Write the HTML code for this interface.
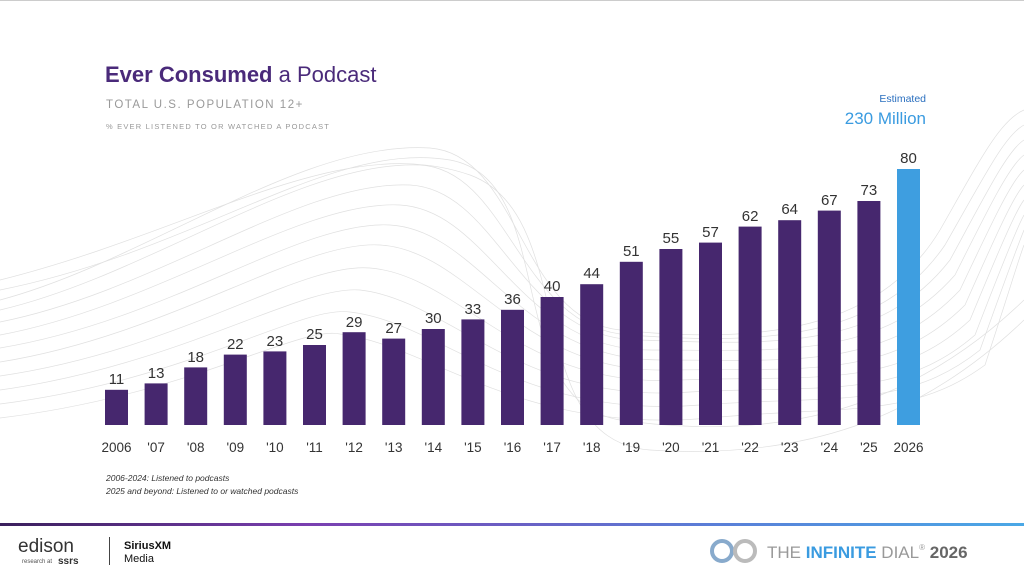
<!DOCTYPE html>
<html><head><meta charset="utf-8"><style>
body{margin:0;width:1024px;height:577px;background:#fff;overflow:hidden;font-family:"Liberation Sans",sans-serif}
svg{position:absolute;left:0;top:0}
</style></head><body>
<svg width="1024" height="577" viewBox="0 0 1024 577">
<defs><linearGradient id="g" x1="0" x2="1"><stop offset="0" stop-color="#3a1f5c"/><stop offset="0.3" stop-color="#7a3fb0"/><stop offset="0.7" stop-color="#5a7fd8"/><stop offset="1" stop-color="#4aa8e6"/></linearGradient></defs>
<rect x="0" y="0" width="1024" height="1" fill="#ccc"/>
<g fill="none" stroke="#e0e0e0" stroke-width="0.7">
<path d="M0,300 C150,260 300,140 430,148 C520,155 520,320 620,330 C760,345 880,330 940,230 C980,160 1000,120 1024,110"/>
<path d="M0,310 C150,275 300,160 420,165 C510,170 520,330 630,335 C760,345 880,340 945,245 C985,175 1005,135 1024,125"/>
<path d="M0,322 C160,290 300,180 410,185 C500,190 520,340 640,340 C770,345 880,350 950,260 C988,190 1008,150 1024,140"/>
<path d="M0,335 C160,305 300,200 400,205 C490,210 520,350 650,350 C780,350 880,360 955,275 C990,205 1010,165 1024,155"/>
<path d="M0,348 C170,320 300,220 390,225 C480,230 520,360 660,360 C790,360 885,370 960,290 C993,220 1012,180 1024,170"/>
<path d="M0,362 C170,335 300,240 380,245 C470,250 520,375 670,370 C800,368 890,380 965,305 C996,235 1014,195 1024,185"/>
<path d="M0,376 C180,350 300,262 370,268 C460,275 520,390 680,380 C810,375 895,390 970,320 C999,250 1016,210 1024,200"/>
<path d="M0,390 C180,365 300,285 360,290 C450,300 520,405 690,392 C820,385 900,400 975,335 C1002,265 1018,225 1024,215"/>
<path d="M0,404 C190,380 300,305 350,312 C440,322 520,420 700,405 C830,395 905,410 980,350 C1005,280 1020,240 1024,230"/>
<path d="M0,418 C190,395 300,325 340,334 C430,345 520,435 710,418 C840,405 910,420 985,365 C1008,295 1020,255 1024,245"/>
<path d="M0,290 C200,250 330,140 450,160 C560,180 500,400 620,420 C760,440 900,420 1024,300"/>
<path d="M0,280 C200,230 340,130 470,175 C580,215 520,440 650,450 C800,460 920,420 1024,320"/>
</g>
<text x="105" y="82" font-size="22" fill="#4a2a7a"><tspan font-weight="bold">Ever Consumed</tspan> a Podcast</text>
<text x="106" y="108" font-size="11.5" fill="#999" letter-spacing="1.5">TOTAL U.S. POPULATION 12+</text>
<text x="106" y="129" font-size="7.5" fill="#999" letter-spacing="1.2">% EVER LISTENED TO OR WATCHED A PODCAST</text>
<text x="926" y="102" font-size="10.5" fill="#2a6fbf" text-anchor="end">Estimated</text>
<text x="926" y="124" font-size="17" fill="#3a9be0" text-anchor="end">230 Million</text>
<g fill="#46276e">
<rect x="105" y="389.8" width="23" height="35.2"/>
<rect x="144.6" y="383.4" width="23" height="41.6"/>
<rect x="184.2" y="367.4" width="23" height="57.6"/>
<rect x="223.8" y="354.6" width="23" height="70.4"/>
<rect x="263.4" y="351.4" width="23" height="73.6"/>
<rect x="303" y="345" width="23" height="80"/>
<rect x="342.6" y="332.2" width="23" height="92.8"/>
<rect x="382.2" y="338.6" width="23" height="86.4"/>
<rect x="421.8" y="329" width="23" height="96"/>
<rect x="461.4" y="319.4" width="23" height="105.6"/>
<rect x="501" y="309.8" width="23" height="115.2"/>
<rect x="540.6" y="297" width="23" height="128"/>
<rect x="580.2" y="284.2" width="23" height="140.8"/>
<rect x="619.8" y="261.8" width="23" height="163.2"/>
<rect x="659.4" y="249" width="23" height="176"/>
<rect x="699" y="242.6" width="23" height="182.4"/>
<rect x="738.6" y="226.6" width="23" height="198.4"/>
<rect x="778.2" y="220.2" width="23" height="204.8"/>
<rect x="817.8" y="210.6" width="23" height="214.4"/>
<rect x="857.4" y="201" width="23" height="224"/>
</g>
<rect x="897" y="169" width="23" height="256" fill="#3e9ee0"/>
<g font-size="15" fill="#333" text-anchor="middle">
<text x="116.5" y="384">11</text><text x="156.1" y="378">13</text><text x="195.7" y="362">18</text><text x="235.3" y="349">22</text><text x="274.9" y="346">23</text><text x="314.5" y="339">25</text><text x="354.1" y="327">29</text><text x="393.7" y="333">27</text><text x="433.3" y="323">30</text><text x="472.9" y="314">33</text><text x="512.5" y="304">36</text><text x="552.1" y="291">40</text><text x="591.7" y="278">44</text><text x="631.3" y="256">51</text><text x="670.9" y="243">55</text><text x="710.5" y="237">57</text><text x="750.1" y="221">62</text><text x="789.7" y="214">64</text><text x="829.3" y="205">67</text><text x="868.9" y="195">73</text><text x="908.5" y="163">80</text>
</g>
<g font-size="13.5" fill="#333" text-anchor="middle">
<text x="116.5" y="452">2006</text><text x="156.1" y="452">'07</text><text x="195.7" y="452">'08</text><text x="235.3" y="452">'09</text><text x="274.9" y="452">'10</text><text x="314.5" y="452">'11</text><text x="354.1" y="452">'12</text><text x="393.7" y="452">'13</text><text x="433.3" y="452">'14</text><text x="472.9" y="452">'15</text><text x="512.5" y="452">'16</text><text x="552.1" y="452">'17</text><text x="591.7" y="452">'18</text><text x="631.3" y="452">'19</text><text x="670.9" y="452">'20</text><text x="710.5" y="452">'21</text><text x="750.1" y="452">'22</text><text x="789.7" y="452">'23</text><text x="829.3" y="452">'24</text><text x="868.9" y="452">'25</text><text x="908.5" y="452">2026</text>
</g>
<text x="106" y="481" font-size="8.5" font-style="italic" fill="#333">2006-2024: Listened to podcasts</text>
<text x="106" y="494" font-size="8.5" font-style="italic" fill="#333">2025 and beyond: Listened to or watched podcasts</text>
<rect x="0" y="523" width="1024" height="3" fill="url(#g)"/>
<text x="18" y="552" font-size="19" fill="#333">edison</text>
<text x="22" y="563" font-size="6" fill="#555">research at</text>
<text x="58" y="564" font-size="10" font-weight="bold" fill="#333">ssrs</text>
<rect x="109" y="537" width="1" height="28" fill="#444"/>
<text x="124" y="549" font-size="11" font-weight="bold" fill="#111">SiriusXM</text>
<text x="124" y="562" font-size="11" fill="#111">Media</text>
<g fill="none" stroke-width="4">
<circle cx="722" cy="551" r="10" stroke="#8ac"/>
<circle cx="745" cy="551" r="10" stroke="#bbb"/>
</g>
<text x="767" y="558" font-size="17" fill="#999">THE <tspan fill="#3a9be0" font-weight="bold">INFINITE</tspan> DIAL<tspan font-size="8" dy="-8">®</tspan><tspan dy="8" fill="#666" font-weight="bold"> 2026</tspan></text>
</svg>
</body></html>
